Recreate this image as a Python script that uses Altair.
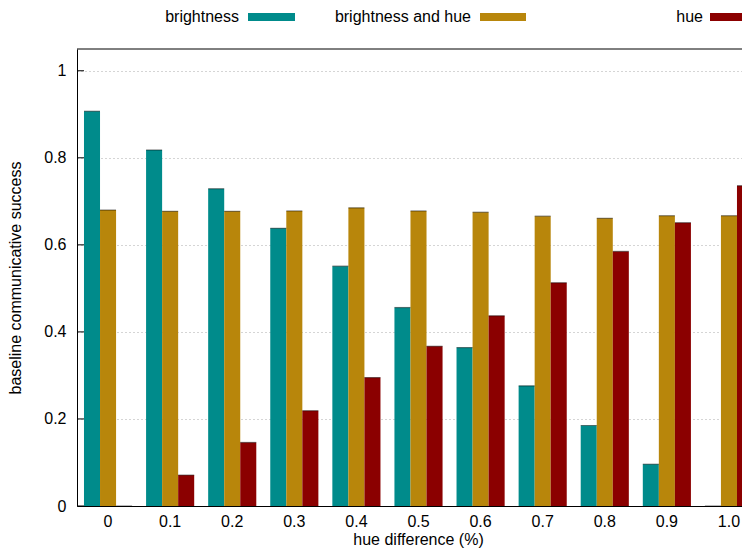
import altair as alt
import pandas as pd

categories = ["0", "0.1", "0.2", "0.3", "0.4", "0.5", "0.6", "0.7", "0.8", "0.9", "1.0"]
series = ["brightness", "brightness and hue", "hue"]
brightness = [0.907, 0.818, 0.729, 0.638, 0.551, 0.456, 0.364, 0.276, 0.185, 0.096, 0.0]
brightness_hue = [0.680, 0.677, 0.677, 0.678, 0.685, 0.678, 0.675, 0.666, 0.661, 0.667, 0.667]
hue = [0.0, 0.071, 0.146, 0.219, 0.295, 0.367, 0.437, 0.513, 0.585, 0.651, 0.736]
colors = ["#008b8b", "#b8860b", "#8b0000"]
y_ticks = [0, 0.2, 0.4, 0.6, 0.8, 1.0]

rows = []
for name, vals in zip(series, [brightness, brightness_hue, hue]):
    for c, v in zip(categories, vals):
        rows.append({"diff": c, "series": name, "value": v})
df = pd.DataFrame(rows)

FONT = "Liberation Sans"
VIS_W = 665
FULL_W = 683
H = 457

x_enc = alt.X(
    "diff:N",
    sort=categories,
    scale=alt.Scale(paddingInner=0.225, paddingOuter=0.1125, range=[0, FULL_W]),
    axis=alt.Axis(
        title="hue difference (%)",
        labelAngle=0,
        ticks=False,
        grid=False,
        domainColor="black",
        labelPadding=7,
        titlePadding=2,
        titleX=341,
    ),
)
xoff_enc = alt.XOffset("series:N", sort=series, scale=alt.Scale(paddingInner=0, paddingOuter=0))

bars = alt.Chart(df).mark_bar(clip=True).encode(
    x=x_enc,
    xOffset=xoff_enc,
    y=alt.Y(
        "value:Q",
        scale=alt.Scale(domain=[0, 1.05], nice=False, zero=True),
        axis=alt.Axis(
            title="baseline communicative success",
            values=y_ticks,
            labelExpr="format(datum.value, '~g')",
            ticks=False,
            grid=True,
            gridColor="#aaaaaa",
            gridDash=[1, 3],
            domainColor="black",
            labelPadding=11,
            titlePadding=20,
        ),
    ),
    color=alt.Color("series:N", sort=series, scale=alt.Scale(domain=series, range=colors), legend=None),
)

caps = alt.Chart(df).mark_tick(clip=True, thickness=1.2, size=16, color="#000000", opacity=0.45).encode(
    x=x_enc,
    xOffset=xoff_enc,
    y="value:Q",
)

tick_df = pd.DataFrame({"value": y_ticks})
ticks = alt.Chart(tick_df).mark_rule(color="black", strokeWidth=1).encode(
    y="value:Q",
    x=alt.value(0),
    x2=alt.value(7),
)

top_border = alt.Chart(pd.DataFrame({"value": [1.05]})).mark_rule(color="black", strokeWidth=1).encode(
    y="value:Q",
    x=alt.value(0),
    x2=alt.value(VIS_W + 5),
)

legend_text_right = [162, 394, 626]
legend_swatch = [(171, 218), (403, 449), (633, 690)]
legend_layers = []
for name, col, tx, (s0, s1) in zip(series, colors, legend_text_right, legend_swatch):
    ldf = pd.DataFrame({"label": [name]})
    legend_layers.append(
        alt.Chart(ldf).mark_text(align="right", baseline="middle", font=FONT, fontSize=16, color="black").encode(
            x=alt.value(tx), y=alt.value(-32), text="label:N"
        )
    )
    legend_layers.append(
        alt.Chart(ldf).mark_rect(color=col).encode(
            x=alt.value(s0), x2=alt.value(s1), y=alt.value(-36), y2=alt.value(-28)
        )
    )

chart = alt.layer(bars, caps, ticks, top_border, *legend_layers).properties(
    width=VIS_W,
    height=H,
    autosize=alt.AutoSizeParams(type="none"),
    padding={"left": 69, "top": 41, "right": 0, "bottom": 42},
).configure_view(strokeWidth=0).configure_axis(
    labelFont=FONT,
    titleFont=FONT,
    labelFontSize=16,
    titleFontSize=16,
    titleFontWeight="normal",
    labelColor="black",
    titleColor="black",
)

chart.save("out.html", embed_options={"renderer": "svg", "actions": False})
